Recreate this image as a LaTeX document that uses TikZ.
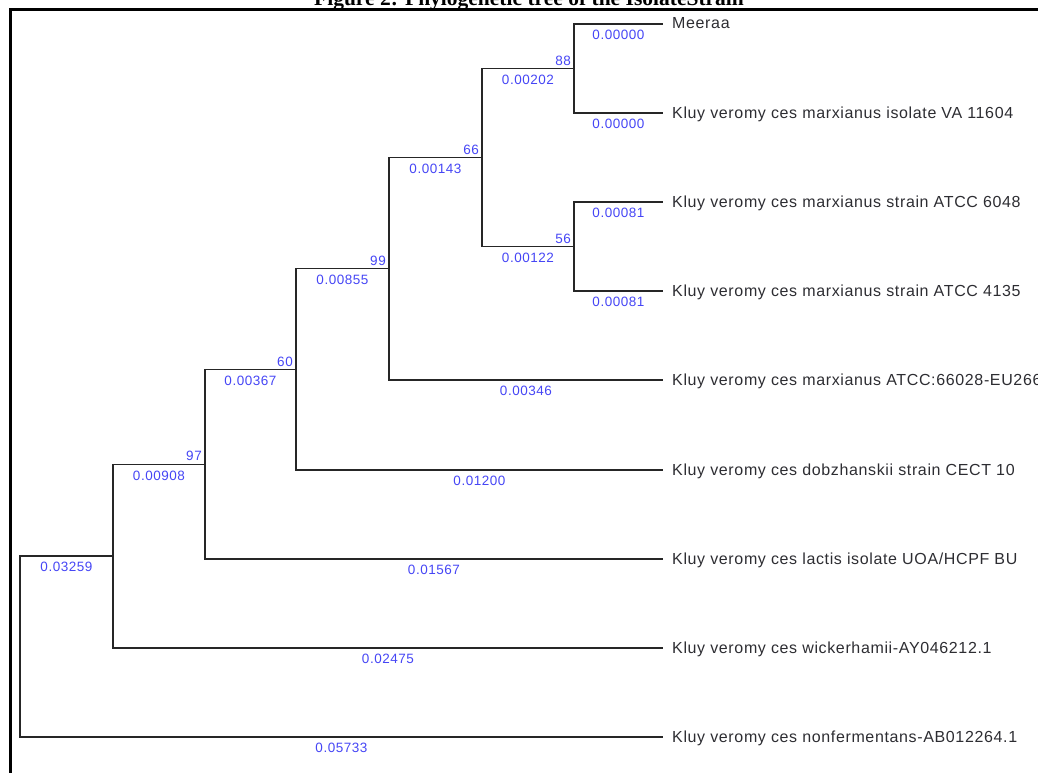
\documentclass[tikz,border=0pt]{standalone}
\usepackage{fontspec}
\setmainfont{Liberation Serif}
\newfontfamily\arial[LetterSpace=4]{Liberation Sans}
\definecolor{lenblue}{RGB}{70,70,245}
\definecolor{taxgray}{RGB}{45,45,50}
\tikzset{
  branch/.style={line width=1.1pt, black!85},
  taxon/.style={anchor=west, inner xsep=9pt, inner ysep=0pt, text height=11pt, text depth=1pt,
    font=\arial\fontsize{16}{18}\selectfont, text=taxgray},
  len/.style={below=5pt, inner sep=1pt, font=\arial\fontsize{13.5}{15}\selectfont, text=lenblue},
  boot/.style={above left=1pt, inner sep=2pt, font=\arial\fontsize{13.5}{15}\selectfont, text=lenblue},
}
\begin{document}
\begin{tikzpicture}[x=1pt, y=-1pt]
  \useasboundingbox (0,0) rectangle (1038,773);
  \clip (0,0) rectangle (1038,773);
  % caption, cut off at the top as in the scan
  \node[font=\bfseries\fontsize{21.5}{24}\selectfont, anchor=base] (title) at (529,6)
    {Figure 2: Phylogenetic tree of the IsolateStrain};
  % frame
  \draw[line width=3pt] (10,775) |- (1045,10);
  % taxa
  \node[taxon] (meeraa) at (663,24) {Meeraa};
  \node[taxon] (va) at (663,113) {Kluy veromy ces marxianus isolate VA 11604};
  \node[taxon] (atcc6048) at (663,202) {Kluy veromy ces marxianus strain ATCC 6048};
  \node[taxon] (atcc4135) at (663,291) {Kluy veromy ces marxianus strain ATCC 4135};
  \node[taxon] (atcc66028) at (663,380) {Kluy veromy ces marxianus ATCC:66028-EU266};
  \node[taxon] (dobz) at (663,470) {Kluy veromy ces dobzhanskii strain CECT 10};
  \node[taxon] (lactis) at (663,559) {Kluy veromy ces lactis isolate UOA/HCPF BU};
  \node[taxon] (wick) at (663,648) {Kluy veromy ces wickerhamii-AY046212.1};
  \node[taxon] (nonf) at (663,737) {Kluy veromy ces nonfermentans-AB012264.1};
  % internal nodes
  \coordinate (n88) at (574,68.5);
  \coordinate (n56) at (574,246.5);
  \coordinate (n66) at (482,157.5);
  \coordinate (n99) at (389,268.8);
  \coordinate (n60) at (296,369.4);
  \coordinate (n97) at (205,464.2);
  \coordinate (n32) at (113,556);
  \coordinate (root) at (20,646.5);
  % bootstrap values
  \node[boot] (b88) at (n88) {88};
  \node[boot] (b56) at (n56) {56};
  \node[boot] (b66) at (n66) {66};
  \node[boot] (b99) at (n99) {99};
  \node[boot] (b60) at (n60) {60};
  \node[boot] (b97) at (n97) {97};
  % branches
  \draw[branch] (n88) |- node[len, pos=.75] {0.00000} (meeraa.west);
  \draw[branch] (n88) |- node[len, pos=.75] {0.00000} (va.west);
  \draw[branch] (n56) |- node[len, pos=.75] {0.00081} (atcc6048.west);
  \draw[branch] (n56) |- node[len, pos=.75] {0.00081} (atcc4135.west);
  \draw[branch] (n66) |- node[len, pos=.75] {0.00202} (n88);
  \draw[branch] (n66) |- node[len, pos=.75] {0.00122} (n56);
  \draw[branch] (n99) |- node[len, pos=.75] {0.00143} (n66);
  \draw[branch] (n99) |- node[len, pos=.75] {0.00346} (atcc66028.west);
  \draw[branch] (n60) |- node[len, pos=.75] {0.00855} (n99);
  \draw[branch] (n60) |- node[len, pos=.75] {0.01200} (dobz.west);
  \draw[branch] (n97) |- node[len, pos=.75] {0.00367} (n60);
  \draw[branch] (n97) |- node[len, pos=.75] {0.01567} (lactis.west);
  \draw[branch] (n32) |- node[len, pos=.75] {0.00908} (n97);
  \draw[branch] (n32) |- node[len, pos=.75] {0.02475} (wick.west);
  \draw[branch] (root) |- node[len, pos=.75] {0.03259} (n32);
  \draw[branch] (root) |- node[len, pos=.75] {0.05733} (nonf.west);
\end{tikzpicture}
\end{document}
